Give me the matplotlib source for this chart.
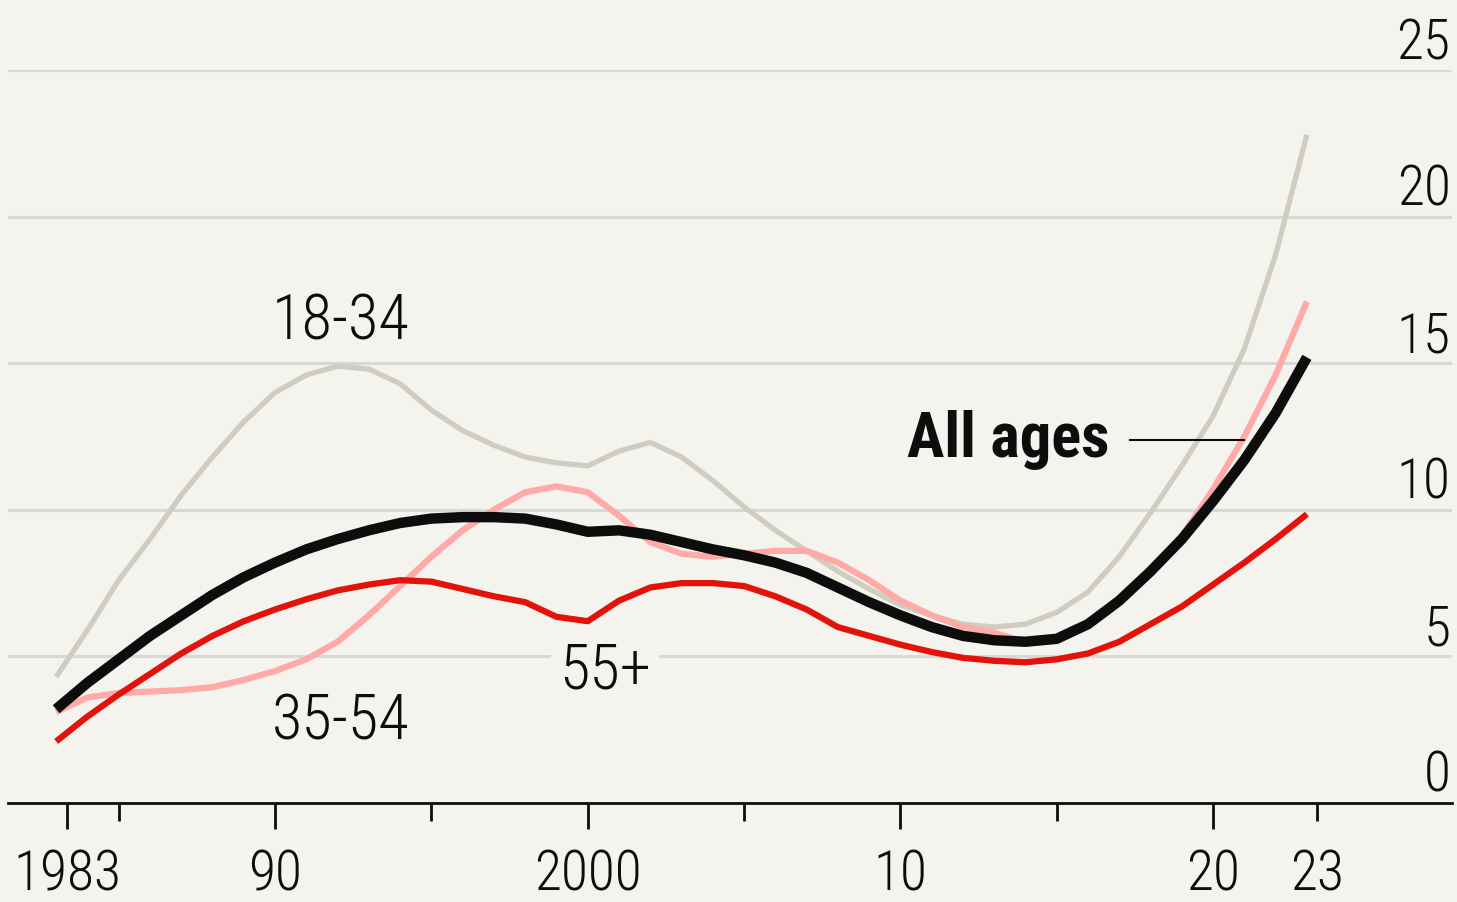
import numpy as np
import matplotlib.pyplot as plt
from matplotlib import font_manager as fm

#%% Data
years = np.arange(1983, 2024)

age_18_34 = [4.3, 5.9, 7.6, 9.0, 10.5, 11.8, 13.0, 14.0, 14.6, 14.9,
             14.8, 14.3, 13.4, 12.7, 12.2, 11.8, 11.6, 11.5, 12.0, 12.3,
             11.8, 11.0, 10.1, 9.3, 8.6, 7.9, 7.3, 6.75, 6.4, 6.1,
             6.0, 6.1, 6.5, 7.2, 8.4, 9.9, 11.5, 13.2, 15.5, 18.7, 22.8]

age_35_54 = [3.1, 3.6, 3.75, 3.8, 3.85, 3.95, 4.2, 4.5, 4.9, 5.5,
             6.4, 7.4, 8.4, 9.3, 10.0, 10.6, 10.8, 10.6, 9.8, 8.9,
             8.5, 8.4, 8.5, 8.6, 8.6, 8.2, 7.6, 6.9, 6.4, 6.0,
             5.8, 5.5, 5.6, 6.1, 6.9, 7.9, 9.1, 10.7, 12.5, 14.6, 17.1]

all_ages = [3.2, 4.1, 4.9, 5.7, 6.4, 7.1, 7.7, 8.2, 8.65, 9.0,
            9.3, 9.55, 9.7, 9.75, 9.75, 9.7, 9.5, 9.25, 9.3, 9.15,
            8.9, 8.65, 8.45, 8.2, 7.85, 7.35, 6.85, 6.4, 6.0, 5.7,
            5.55, 5.5, 5.6, 6.1, 6.9, 7.9, 9.0, 10.3, 11.7, 13.3, 15.2]

age_55_plus = [2.1, 2.95, 3.7, 4.4, 5.1, 5.7, 6.2, 6.6, 6.95, 7.25,
               7.45, 7.6, 7.55, 7.3, 7.05, 6.85, 6.35, 6.2, 6.9, 7.35,
               7.5, 7.5, 7.4, 7.05, 6.6, 6.0, 5.7, 5.4, 5.15, 4.95,
               4.85, 4.8, 4.9, 5.1, 5.5, 6.1, 6.7, 7.45, 8.2, 9.0, 9.85]

major_x = [1983.35, 1990, 2000, 2010, 2020]
major_lbl = ['1983', '90', '2000', '10', '20']
minor_x = [1985, 1995, 2005, 2015, 2023.33]
minor_lbl = ['', '', '', '', '23']
y_ticks = [0, 5, 10, 15, 20, 25]

#%% Style
bg = '#f4f3ee'
c_grey = '#cfcdc0'
c_pink = '#ffaaa7'
c_red = '#e3120b'
c_black = '#0d0d0d'

# pick a condensed face if one is there
names = {f.name for f in fm.fontManager.ttflist}
font = 'DejaVu Sans'
for cand in ['Roboto Condensed', 'Fira Sans Condensed', 'PT Sans Narrow',
             'Liberation Sans Narrow', 'Open Sans Condensed']:
    if cand in names:
        font = cand
        break
plt.rcParams['font.family'] = [font, 'DejaVu Sans']
plt.rcParams['font.weight'] = 300

fig = plt.figure(figsize=(14.57, 9.02), dpi=100, facecolor=bg)
ax = fig.add_axes([8/1457, 99/902, 1444/1457, 733/902], facecolor=bg)
ax.set_xlim(1981.46, 2027.64)
ax.set_ylim(0, 25)

# lines
style = dict(solid_joinstyle='round', solid_capstyle='butt')
ax.plot(years, age_18_34, c=c_grey, lw=3.8, zorder=3, **style)
ax.plot(years, age_35_54, c=c_pink, lw=4.5, zorder=4, **style)
ax.plot(years, age_55_plus, c=c_red, lw=4.5, zorder=5, **style)
ax.plot(years, all_ages, c=c_black, lw=7.5, zorder=6, **style)

# grid + axis
ax.set_yticks(y_ticks)
ax.yaxis.grid(True, color='#d8d8d6', lw=2.2)
ax.set_axisbelow(True)
for s in ['top', 'left', 'right']:
    ax.spines[s].set_visible(False)
ax.spines['bottom'].set_color(c_black)
ax.spines['bottom'].set_linewidth(2)

ax.tick_params(axis='y', length=0, labelleft=False, labelright=True, pad=-1,
               labelsize=40, labelcolor=c_black)
for lbl in ax.get_yticklabels():
    lbl.set_ha('right')
    lbl.set_va('bottom')

ax.set_xticks(major_x, labels=major_lbl)
ax.set_xticks(minor_x, labels=minor_lbl, minor=True)
ax.tick_params(axis='x', which='major', length=19, width=2, color=c_black,
               pad=14, labelsize=40, labelcolor=c_black)
ax.tick_params(axis='x', which='minor', length=13, width=2, color=c_black,
               pad=20, labelsize=40, labelcolor=c_black)

# labels
ax.text(1992.1, 16.4, '18-34', fontsize=45, ha='center', va='center', color=c_black)
ax.text(1992.1, 2.76, '35-54', fontsize=45, ha='center', va='center', color=c_black)
ax.text(2000.55, 4.5, '55+', fontsize=45, ha='center', va='center', color=c_black, zorder=2,
        bbox=dict(facecolor=bg, edgecolor='none', pad=6))
ax.text(2016.7, 12.38, 'All ages', fontsize=45, fontweight='bold', ha='right', va='center',
        color=c_black)
ax.plot([2017.35, 2021.0], [12.38, 12.38], c=c_black, lw=1.5, zorder=7)

plt.savefig('out.png', dpi=100, facecolor=bg)
